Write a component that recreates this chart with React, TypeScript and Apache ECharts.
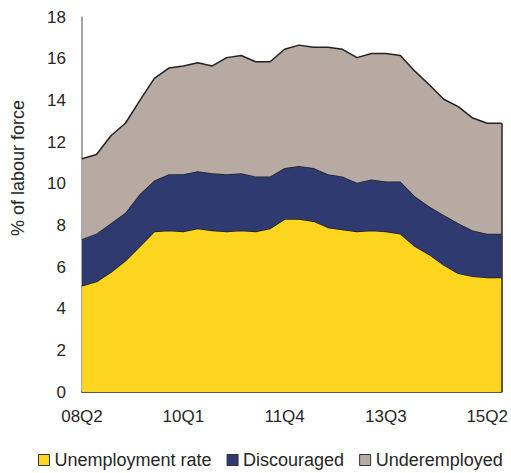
import React, { useEffect, useRef } from "react";
import * as echarts from "echarts";

const quarters = [
  "08Q2", "08Q3", "08Q4", "09Q1", "09Q2", "09Q3", "09Q4", "10Q1", "10Q2", "10Q3",
  "10Q4", "11Q1", "11Q2", "11Q3", "11Q4", "12Q1", "12Q2", "12Q3", "12Q4", "13Q1",
  "13Q2", "13Q3", "13Q4", "14Q1", "14Q2", "14Q3", "14Q4", "15Q1", "15Q2", "15Q3",
];

const unemployment = [
  5.1, 5.3, 5.75, 6.3, 7.0, 7.7, 7.75, 7.7, 7.85, 7.75,
  7.7, 7.75, 7.7, 7.85, 8.3, 8.3, 8.2, 7.9, 7.8, 7.7,
  7.75, 7.7, 7.6, 7.0, 6.6, 6.1, 5.7, 5.55, 5.5, 5.5,
];

const discouraged = [
  2.25, 2.3, 2.35, 2.3, 2.5, 2.45, 2.7, 2.75, 2.75, 2.75,
  2.75, 2.75, 2.65, 2.5, 2.45, 2.55, 2.55, 2.55, 2.55, 2.35,
  2.45, 2.4, 2.5, 2.4, 2.3, 2.4, 2.4, 2.2, 2.1, 2.1,
];

const underemployed = [
  3.85, 3.8, 4.2, 4.3, 4.5, 4.9, 5.1, 5.2, 5.2, 5.15,
  5.6, 5.65, 5.5, 5.5, 5.7, 5.8, 5.8, 6.1, 6.1, 6.0,
  6.05, 6.15, 6.05, 6.0, 5.85, 5.55, 5.6, 5.4, 5.3, 5.3,
];

const seriesNames = ["Unemployment rate", "Discouraged", "Underemployed"];
const colors = ["#FDD51E", "#2E3A70", "#B7AAA3"];

const FONT = "Liberation Sans, Arial, sans-serif";
const TEXT = "#262626";

export default function App() {
  const ref = useRef<HTMLDivElement>(null);
  useEffect(() => {
    if (!ref.current) return;
    const chart = echarts.init(ref.current, undefined, { renderer: "svg" });
    const last = quarters.length - 1;
    const lastTotal = unemployment[last] + discouraged[last] + underemployed[last];
    const lineStyle = { color: "#222", width: 1.5 };
    const mk = (i: number, data: number[]) => ({
      name: seriesNames[i],
      type: "line",
      stack: "total",
      data,
      symbol: "none",
      smooth: false,
      lineStyle,
      itemStyle: { color: colors[i], borderColor: "#333", borderWidth: 1 },
      areaStyle: { color: colors[i], opacity: 1 },
      z: 2 + i,
    });
    const top: any = mk(2, underemployed);
    top.markLine = {
      silent: true,
      symbol: "none",
      label: { show: false },
      lineStyle: { color: "#222", width: 1.5, type: "solid" },
      data: [[{ coord: [quarters[last], 0] }, { coord: [quarters[last], lastTotal] }]],
    };
    chart.setOption({
      animation: false,
      backgroundColor: "#fff",
      textStyle: { fontFamily: FONT },
      grid: { left: 82, right: 9, top: 17, bottom: 81, containLabel: false },
      legend: {
        data: seriesNames.map((n, i) => ({
          name: n,
          itemStyle: { color: colors[i], borderColor: "#333", borderWidth: 1 },
        })),
        left: 38,
        top: 451,
        width: 490,
        padding: 0,
        orient: "horizontal",
        icon: "rect",
        itemWidth: 11,
        itemHeight: 11,
        itemGap: 15,
        textStyle: { fontSize: 18, color: TEXT, fontFamily: FONT },
        selectedMode: false,
      },
      xAxis: {
        type: "category",
        data: quarters,
        boundaryGap: false,
        axisLine: { show: true, lineStyle: { color: "#222", width: 1.5 } },
        axisTick: { show: false },
        axisLabel: { interval: 6, fontSize: 17, color: TEXT, margin: 16, fontFamily: FONT },
        splitLine: { show: false },
      },
      yAxis: {
        type: "value",
        min: 0,
        max: 18,
        interval: 2,
        axisLine: { show: true, lineStyle: { color: "#888", width: 1.5 } },
        axisTick: { show: false },
        axisLabel: { fontSize: 17, color: TEXT, margin: 16, fontFamily: FONT },
        splitLine: { show: false },
      },
      graphic: [
        {
          type: "text",
          x: 18,
          y: 168,
          rotation: Math.PI / 2,
          style: {
            text: "% of labour force",
            fontSize: 18,
            fontFamily: FONT,
            fill: TEXT,
            align: "center",
            verticalAlign: "middle",
          },
        },
      ],
      series: [mk(0, unemployment), mk(1, discouraged), top],
    });
    return () => chart.dispose();
  }, []);
  return (
    <div
      ref={ref}
      style={{ position: "fixed", left: 0, top: 0, width: 511, height: 473 }}
    />
  );
}
